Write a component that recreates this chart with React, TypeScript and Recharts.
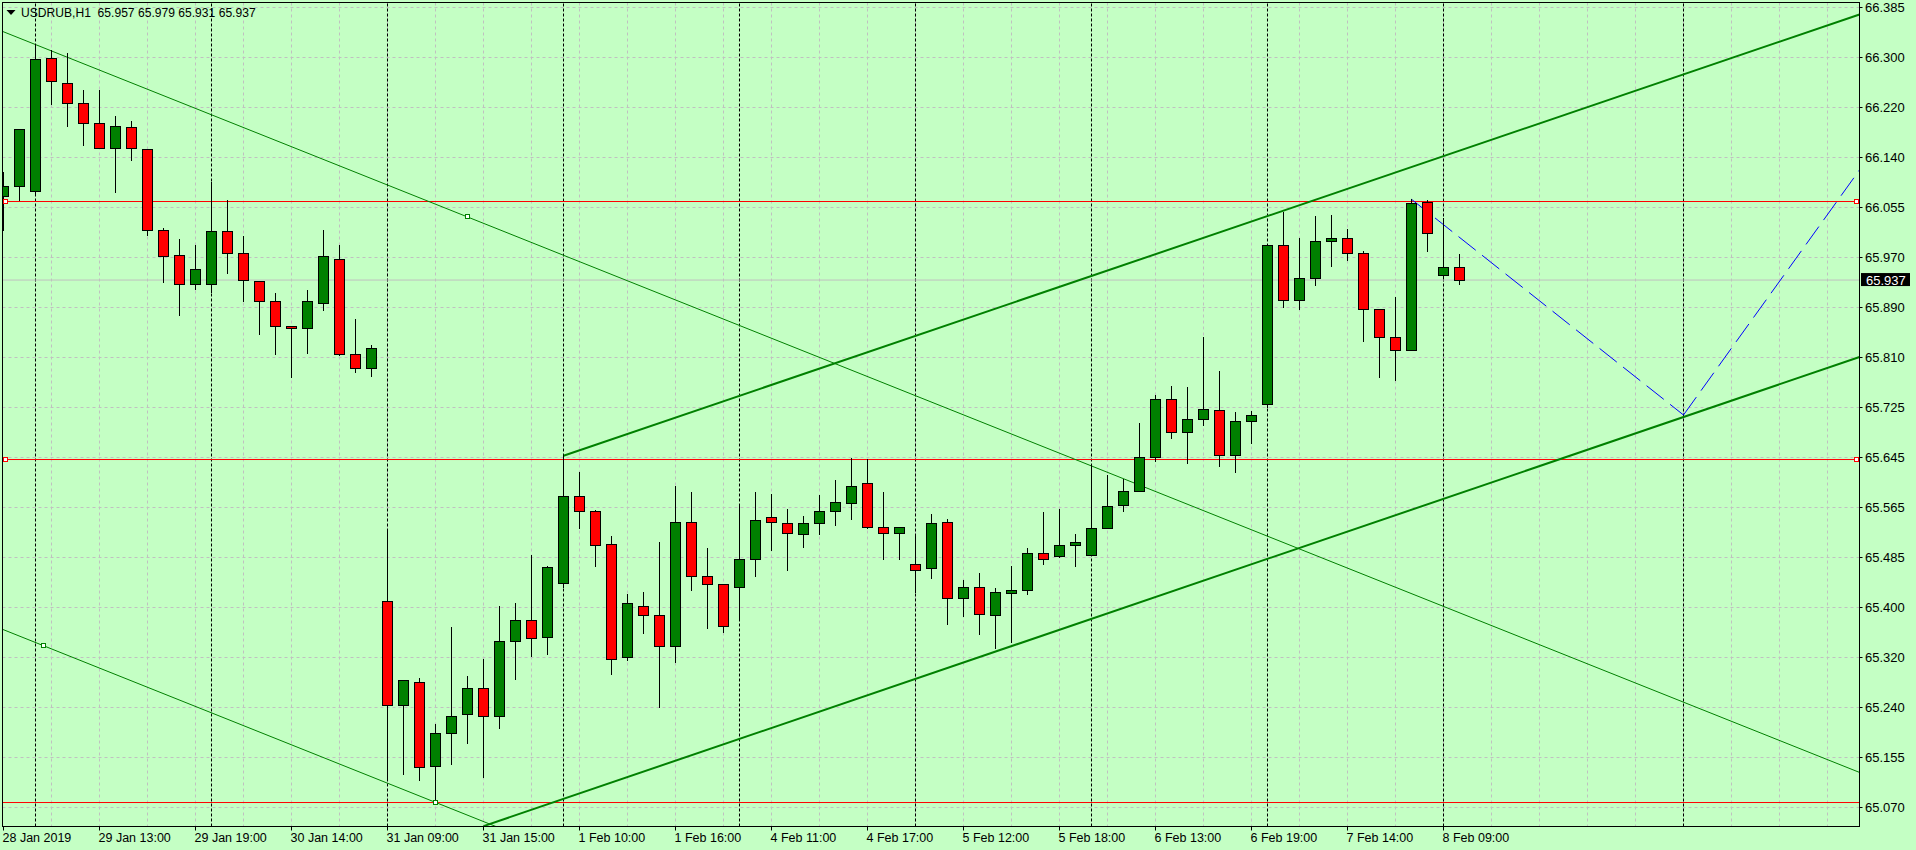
import React from "react";
import {
  ComposedChart,
  Bar,
  XAxis,
  YAxis,
  CartesianGrid,
  ReferenceLine,
  ReferenceDot,
} from "recharts";

// USDRUB H1, one entry per bar (bar 0 = left edge)
const opens = [
  66.074, 66.09, 66.082, 66.301, 66.26, 66.228, 66.194, 66.154, 66.187, 66.151,
  66.018, 65.977, 65.929, 65.929, 66.016, 65.98, 65.934, 65.901, 65.861, 65.857,
  65.899, 65.97, 65.815, 65.791, 65.409, 65.237, 65.276, 65.138, 65.192, 65.223,
  65.266, 65.22, 65.343, 65.378, 65.35, 65.439, 65.582, 65.557, 65.503, 65.317,
  65.401, 65.386, 65.334, 65.539, 65.45, 65.437, 65.432, 65.478, 65.547, 65.537,
  65.519, 65.537, 65.557, 65.57, 65.603, 65.531, 65.521, 65.47, 65.463, 65.539,
  65.414, 65.432, 65.386, 65.422, 65.427, 65.488, 65.483, 65.5, 65.485, 65.529,
  65.566, 65.59, 65.646, 65.74, 65.687, 65.707, 65.723, 65.649, 65.704, 65.733,
  65.993, 65.903, 65.94, 66.0, 66.005, 65.98, 65.888, 65.843, 65.822, 66.064,
  65.944, 65.957,
];
const highs = [
  66.115, 66.184, 66.325, 66.315, 66.31, 66.249, 66.25, 66.206, 66.198, 66.151,
  66.022, 66.005, 65.994, 66.098, 66.069, 66.01, 65.934, 65.916, 65.861, 65.921,
  66.02, 65.995, 65.873, 65.83, 65.527, 65.278, 65.283, 65.207, 65.366, 65.286,
  65.314, 65.401, 65.406, 65.485, 65.467, 65.65, 65.621, 65.559, 65.516, 65.421,
  65.424, 65.506, 65.598, 65.588, 65.496, 65.437, 65.567, 65.589, 65.586, 65.561,
  65.549, 65.584, 65.608, 65.644, 65.643, 65.589, 65.531, 65.519, 65.552, 65.544,
  65.444, 65.455, 65.431, 65.467, 65.496, 65.556, 65.561, 65.519, 65.633, 65.616,
  65.61, 65.702, 65.748, 65.763, 65.761, 65.843, 65.787, 65.72, 65.722, 65.993,
  66.049, 66.006, 66.042, 66.044, 66.021, 65.985, 65.888, 65.909, 66.07, 66.069,
  66.039, 65.979,
];
const lows = [
  66.02, 66.068, 66.08, 66.227, 66.19, 66.159, 66.154, 66.081, 66.134, 66.011,
  65.933, 65.879, 65.922, 65.917, 65.948, 65.902, 65.848, 65.815, 65.777, 65.817,
  65.887, 65.814, 65.786, 65.779, 65.118, 65.125, 65.116, 65.079, 65.141, 65.176,
  65.12, 65.2, 65.281, 65.319, 65.322, 65.433, 65.529, 65.467, 65.289, 65.312,
  65.357, 65.235, 65.309, 65.427, 65.365, 65.358, 65.381, 65.45, 65.494, 65.461,
  65.499, 65.519, 65.534, 65.544, 65.529, 65.478, 65.478, 65.424, 65.447, 65.371,
  65.385, 65.355, 65.333, 65.342, 65.421, 65.47, 65.482, 65.467, 65.485, 65.529,
  65.557, 65.59, 65.639, 65.677, 65.636, 65.699, 65.631, 65.621, 65.669, 65.729,
  65.893, 65.889, 65.929, 65.96, 65.97, 65.837, 65.778, 65.773, 65.822, 65.985,
  65.94, 65.931,
];
const closes = [
  66.09, 66.184, 66.299, 66.264, 66.228, 66.195, 66.154, 66.19, 66.153, 66.018,
  65.975, 65.929, 65.954, 66.016, 65.98, 65.936, 65.901, 65.861, 65.857, 65.901,
  65.975, 65.815, 65.791, 65.824, 65.237, 65.278, 65.135, 65.192, 65.22, 65.266,
  65.22, 65.343, 65.378, 65.347, 65.465, 65.582, 65.557, 65.501, 65.314, 65.406,
  65.386, 65.335, 65.539, 65.45, 65.436, 65.368, 65.477, 65.542, 65.539, 65.521,
  65.537, 65.557, 65.572, 65.598, 65.531, 65.521, 65.531, 65.46, 65.537, 65.414,
  65.432, 65.388, 65.424, 65.427, 65.488, 65.478, 65.5, 65.506, 65.529, 65.565,
  65.59, 65.646, 65.74, 65.687, 65.707, 65.725, 65.649, 65.705, 65.715, 65.993,
  65.903, 65.94, 66.0, 66.005, 65.98, 65.888, 65.843, 65.822, 66.062, 66.013,
  65.957, 65.937,
];

const timeTicks = [0, 6, 12, 18, 24, 30, 36, 42, 48, 54, 60, 66, 72, 78, 84, 90];
const timeLabels = [
  "28 Jan 2019", "29 Jan 13:00", "29 Jan 19:00", "30 Jan 14:00", "31 Jan 09:00",
  "31 Jan 15:00", "1 Feb 10:00", "1 Feb 16:00", "4 Feb 11:00", "4 Feb 17:00",
  "5 Feb 12:00", "5 Feb 18:00", "6 Feb 13:00", "6 Feb 19:00", "7 Feb 14:00",
  "8 Feb 09:00",
];
const daySeparators = [2, 13, 24, 35, 46, 57, 68, 79, 90, 105];

const priceLabels = [
  "66.385", "66.300", "66.220", "66.140", "66.055", "65.970", "65.890", "65.810",
  "65.725", "65.645", "65.565", "65.485", "65.400", "65.320", "65.240", "65.155",
  "65.070",
];
const levels = [66.0661, 65.642, 65.0782];
const levelMarks = [
  [0.11, 66.0661], [115.8, 66.0661], [0.11, 65.642], [115.8, 65.642],
];
const bidPrice = 65.937;

// drawn objects, as [bar, price] points
const fallingUpper = [[-0.0625, 66.3457], [116, 65.1277]];
const fallingLower = [[-0.0625, 65.3629], [31, 65.0364]];
const risingUpper = [[35, 65.6482], [116, 66.3735]];
const risingLower = [[30, 65.0394], [116, 65.8105]];
const forecast = [[88, 66.0697], [105, 65.7152], [116, 66.1179]];
const anchors = [[29, 66.0407], [2.5, 65.3366], [27, 65.0785]];

const xDomain = [-0.0625, 116];
const yDomain = [65.0388, 66.3932];

const topPrice = Number(priceLabels[0]);
const bottomPrice = Number(priceLabels[priceLabels.length - 1]);
const priceTicks = priceLabels.map(
  (_, i) => topPrice + ((bottomPrice - topPrice) * i) / (priceLabels.length - 1)
);
const gridBars: number[] = [];
for (let b = 3; b < 116; b += 3) gridBars.push(b);

const candles = opens.map((o, i) => ({
  bar: i,
  open: o,
  high: highs[i],
  low: lows[i],
  close: closes[i],
}));

const FONT = '"Liberation Sans", Arial, sans-serif';
const BG = "#c4ffc4";
const snap = (v: number) => Math.round(v - 0.5) + 0.5;

function Candle(props: any) {
  const { x, y, width, height, payload } = props;
  if (x == null || y == null) return null;
  const { open, high, low, close } = payload;
  const yTop = Math.min(y, y + height);
  const h = Math.abs(height);
  const py = (p: number) => yTop + ((high - p) / (high - low || 1)) * h;
  const cx = snap(x + width / 2);
  const top = snap(py(Math.max(open, close)));
  const bottom = snap(py(Math.min(open, close)));
  return (
    <g>
      <line x1={cx} x2={cx} y1={Math.round(yTop)} y2={Math.round(yTop + h) + 1} stroke="#000" />
      <rect
        x={cx - 5}
        y={top}
        width={10}
        height={Math.max(bottom - top, 1)}
        fill={close >= open ? "#008000" : "#ff0000"}
        stroke="#000"
      />
    </g>
  );
}

function TimeTick(props: any) {
  const { x, y, payload } = props;
  const i = timeTicks.indexOf(payload.value);
  const tx = snap(x);
  return (
    <g>
      <line x1={tx} x2={tx} y1={y} y2={y + 4} stroke="#000" />
      <text x={tx - 1} y={y + 15} fontSize={12.5} fontFamily={FONT} fill="#000">
        {timeLabels[i]}
      </text>
    </g>
  );
}

function PriceTick(props: any) {
  const { x, y, payload } = props;
  let i = 0;
  priceTicks.forEach((t, k) => {
    if (Math.abs(t - payload.value) < Math.abs(priceTicks[i] - payload.value)) i = k;
  });
  const ty = snap(y);
  return (
    <g>
      <line x1={x} x2={x + 3} y1={ty} y2={ty} stroke="#000" />
      <text x={x + 5.5} y={ty + 4.6} fontSize={13} fontFamily={FONT} fill="#000">
        {priceLabels[i]}
      </text>
    </g>
  );
}

const anchorShape = (color: string) => (props: any) =>
  (
    <rect x={snap(props.cx) - 2} y={snap(props.cy) - 2} width={4} height={4} fill="#fff" stroke={color} />
  );

function PriceBox(props: any) {
  const { cx, cy } = props;
  return (
    <g>
      <rect x={cx + 1.5} y={cy - 7} width={49} height={13} fill="#000" />
      <text x={cx + 6.5} y={cy + 4.6} fontSize={13} fontFamily={FONT} fill="#fff">
        {bidPrice.toFixed(3)}
      </text>
    </g>
  );
}

const seg = (pts: number[][]) => pts.map(([x, y]) => ({ x, y }));

export default function App() {
  return (
    <div
      style={{
        position: "absolute",
        left: 0,
        top: 0,
        width: 1916,
        height: 850,
        background: BG,
        overflow: "hidden",
      }}
    >
      <ComposedChart
        width={1916}
        height={850}
        data={candles}
        margin={{ top: 2.5, left: 2.5, right: 0, bottom: 0 }}
      >
        <CartesianGrid
          stroke="#c0c0c0"
          strokeDasharray="3 3"
          horizontalValues={priceTicks}
          verticalValues={gridBars}
        />
        <XAxis
          dataKey="bar"
          type="number"
          domain={xDomain}
          allowDataOverflow
          ticks={timeTicks}
          interval={0}
          height={23.5}
          axisLine={false}
          tickLine={false}
          tickSize={0}
          tickMargin={0}
          tick={<TimeTick />}
        />
        <YAxis
          orientation="right"
          type="number"
          domain={yDomain}
          allowDataOverflow
          ticks={priceTicks}
          interval={0}
          width={56.5}
          axisLine={false}
          tickLine={false}
          tickSize={0}
          tickMargin={0}
          tick={<PriceTick />}
        />
        {daySeparators.map((b) => (
          <ReferenceLine key={"d" + b} x={b} stroke="#000" strokeDasharray="3 2" zIndex={250} />
        ))}
        <ReferenceLine y={bidPrice} stroke="#c0c0c0" zIndex={250} />
        {levels.map((p) => (
          <ReferenceLine key={"l" + p} y={p} stroke="#ff0000" zIndex={250} />
        ))}
        <ReferenceLine segment={seg(fallingUpper)} stroke="#008000" ifOverflow="hidden" zIndex={250} />
        <ReferenceLine segment={seg(fallingLower)} stroke="#008000" ifOverflow="hidden" zIndex={250} />
        <ReferenceLine segment={seg(risingUpper)} stroke="#008000" strokeWidth={2} ifOverflow="hidden" zIndex={250} />
        <ReferenceLine segment={seg(risingLower)} stroke="#008000" strokeWidth={2} ifOverflow="hidden" zIndex={250} />
        <ReferenceLine
          segment={seg(forecast.slice(0, 2))}
          stroke="#0000ff"
          strokeDasharray="22 8"
          ifOverflow="hidden"
          zIndex={250}
        />
        <ReferenceLine
          segment={seg(forecast.slice(1, 3))}
          stroke="#0000ff"
          strokeDasharray="22 8"
          ifOverflow="hidden"
          zIndex={250}
        />
        <Bar
          dataKey={(d: any) => [d.low, d.high]}
          barSize={10}
          shape={<Candle />}
          isAnimationActive={false}
        />
        {anchors.map(([b, p]) => (
          <ReferenceDot
            key={"a" + b}
            x={b}
            y={p}
            ifOverflow="visible"
            shape={anchorShape("#008000")}
            zIndex={700}
          />
        ))}
        {levelMarks.map(([b, p]) => (
          <ReferenceDot
            key={"m" + b + p}
            x={b}
            y={p}
            ifOverflow="visible"
            shape={anchorShape("#ff0000")}
            zIndex={700}
          />
        ))}
        <ReferenceDot x={xDomain[1]} y={bidPrice} ifOverflow="visible" shape={<PriceBox />} zIndex={700} />
      </ComposedChart>
      <svg
        width={1916}
        height={850}
        style={{ position: "absolute", left: 0, top: 0, pointerEvents: "none" }}
      >
        <rect x={2.5} y={2.5} width={1857} height={824} fill="none" stroke="#000" />
        <polygon points="6.5,10 15.5,10 11,15" fill="#000" />
        <text x={21} y={17} fontSize={12.1} fontFamily={FONT} fill="#000" style={{ whiteSpace: "pre" }}>
          {"USDRUB,H1  65.957 65.979 65.931 65.937"}
        </text>
      </svg>
    </div>
  );
}
